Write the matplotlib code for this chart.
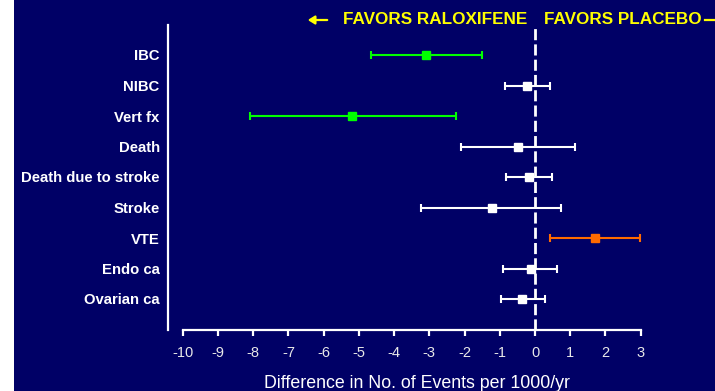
import matplotlib
matplotlib.use("Agg")
import matplotlib.pyplot as plt
from matplotlib.patches import FancyArrowPatch

# Outcomes and absolute risk differences (events per 1000 women-years)
outcomes = ["IBC", "NIBC", "Vert fx", "Death", "Death due to stroke",
            "Stroke", "VTE", "Endo ca", "Ovarian ca"]
estimate = [-3.1, -0.22, -5.2, -0.48, -0.18, -1.23, 1.7, -0.12, -0.36]
ci_low = [-4.66, -0.85, -8.1, -2.1, -0.82, -3.24, 0.42, -0.91, -0.96]
ci_high = [-1.51, 0.43, -2.24, 1.14, 0.48, 0.73, 2.98, 0.62, 0.28]
colors = ["#00ff00", "#ffffff", "#00ff00", "#ffffff", "#ffffff",
          "#ffffff", "#ff6a00", "#ffffff", "#ffffff"]
xticks = list(range(-10, 4))

NAVY = "#000066"
W, H = 715, 391

fig = plt.figure(figsize=(W / 100, H / 100), dpi=100)
fig.patch.set_facecolor("white")

# navy panel behind everything (white strip on the far left)
bg = fig.add_axes([14 / W, 0, 1 - 14 / W, 1], zorder=-5)
bg.set_facecolor(NAVY)
bg.set_xticks([])
bg.set_yticks([])
for s in bg.spines.values():
    s.set_visible(False)

left_px, right_px, top_px, bot_px = 168, 700, 25, 330
ax = fig.add_axes([left_px / W, 1 - bot_px / H, (right_px - left_px) / W,
                   (bot_px - top_px) / H], zorder=1)
ax.patch.set_alpha(0)

px_per_unit = 35.23
zero_px = 535
ax.set_xlim((left_px - zero_px) / px_per_unit, (right_px - zero_px) / px_per_unit)
row0, row_gap = 55, 30.5
ax.set_ylim((bot_px - row0) / row_gap, (top_px - row0) / row_gap)

# reference line at zero
ax.axvline(0, color="white", lw=2, dashes=(4, 1.5), zorder=1)

for i, (est, lo, hi, c) in enumerate(zip(estimate, ci_low, ci_high, colors)):
    ax.errorbar(est, i, xerr=[[est - lo], [hi - est]], fmt="s", color=c,
                ecolor=c, elinewidth=1.5, capsize=3, capthick=1.5,
                markersize=5.5, zorder=3)

for s in ("top", "right"):
    ax.spines[s].set_visible(False)
ax.spines["left"].set_color("white")
ax.spines["left"].set_linewidth(1.6)
ax.spines["bottom"].set_color("white")
ax.spines["bottom"].set_linewidth(1.6)
ax.spines["bottom"].set_bounds(-10, 3)

ax.set_xticks(xticks)
ax.set_xticklabels([str(t) for t in xticks], family="Liberation Sans",
                   fontsize=10.5, color="#e8e8e8")
ax.tick_params(axis="x", direction="out", length=4.5, width=1.6, color="white",
               pad=7)
ax.set_yticks(range(len(outcomes)))
ax.set_yticklabels(outcomes, family="Liberation Sans", fontweight="bold",
                   fontsize=10.7, color="white")
ax.tick_params(axis="y", length=0, pad=6)

fig.text(417 / W, 1 - 384 / H, "Difference in No. of Events per 1000/yr",
         family="Liberation Sans", fontsize=12.8, color="white",
         ha="center", va="center")

# direction banner
ty = 1 - 20 / H
fig.text(527 / W, ty, "FAVORS RALOXIFENE", family="Liberation Sans",
         fontweight="bold", fontsize=12.3, color="#ffff00", ha="right", va="center")
fig.text(544 / W, ty, "FAVORS PLACEBO", family="Liberation Sans",
         fontweight="bold", fontsize=12.3, color="#ffff00", ha="left", va="center")
fig.add_artist(FancyArrowPatch(
    (330 / W, ty), (305 / W, ty), transform=fig.transFigure,
    arrowstyle="-|>,head_length=4,head_width=2.5", color="#ffff00", lw=1.6,
    mutation_scale=1))
fig.add_artist(plt.Line2D([705 / W, 716 / W], [ty, ty], transform=fig.transFigure,
                          color="#ffff00", lw=1.6))

fig.savefig("out.png", dpi=100, facecolor=fig.get_facecolor())
